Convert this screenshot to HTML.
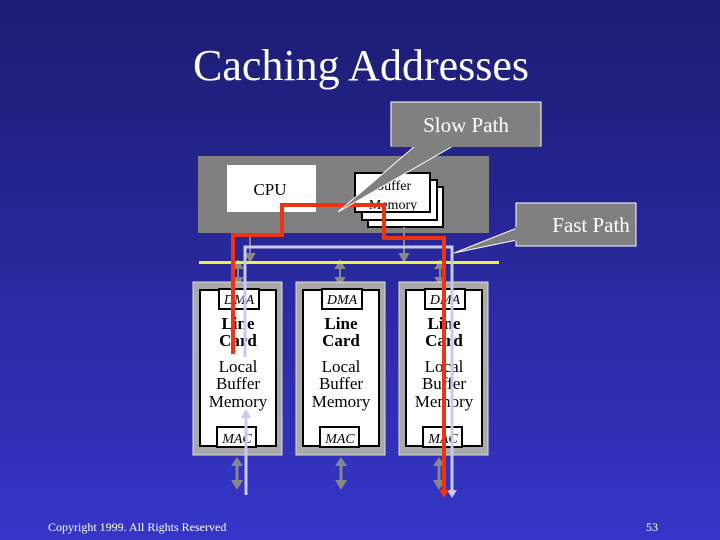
<!DOCTYPE html>
<html><head><style>
html,body{margin:0;padding:0;}
body{width:720px;height:540px;overflow:hidden;}
svg{display:block;}
text{font-family:"Liberation Serif",serif;}
</style></head><body>
<svg width="720" height="540" viewBox="0 0 720 540" xmlns="http://www.w3.org/2000/svg">
<defs>
<linearGradient id="bg" x1="0" y1="0" x2="0" y2="1">
<stop offset="0" stop-color="#1c1c72"/>
<stop offset="1" stop-color="#3535c8"/>
</linearGradient>
</defs>
<rect width="720" height="540" fill="url(#bg)"/>
<text x="361" y="80" font-size="44" fill="#fff" text-anchor="middle">Caching Addresses</text>

<rect x="198" y="156" width="291" height="77" fill="#808080"/>
<rect x="227" y="165" width="89" height="47" fill="#fff"/>
<text x="270" y="195" font-size="17" text-anchor="middle">CPU</text>
<rect x="368" y="187" width="75" height="40" fill="#fff" stroke="#000" stroke-width="2"/>
<rect x="362" y="180" width="75" height="40" fill="#fff" stroke="#000" stroke-width="2"/>
<rect x="355" y="173" width="75" height="39" fill="#fff" stroke="#000" stroke-width="2"/>
<text x="393" y="190" font-size="14" text-anchor="middle">Buffer</text>
<text x="393" y="209" font-size="14" text-anchor="middle">Memory</text>

<g stroke="#888" stroke-width="2" fill="#888">
<line x1="250" y1="233" x2="250" y2="258"/><path d="M246,254 L254,254 L250,261z"/>
<line x1="404" y1="227" x2="404" y2="258"/><path d="M400,254 L408,254 L404,261z"/>
<line x1="340" y1="266" x2="340" y2="280"/><path d="M336,268 L344,268 L340,261z M336,278 L344,278 L340,284z"/>
<line x1="440" y1="266" x2="440" y2="280"/><path d="M436,268 L444,268 L440,261z M436,278 L444,278 L440,284z"/>
<line x1="238" y1="266" x2="238" y2="280"/><path d="M234,268 L242,268 L238,261z M234,278 L242,278 L238,284z"/>
</g>
<rect x="199" y="261" width="300" height="3" fill="#f0f040"/>

<g>
<rect x="193" y="282" width="89" height="173" fill="#aaa" stroke="#ddd"/>
<rect x="200" y="290" width="76" height="156" fill="#fff" stroke="#000" stroke-width="2"/>
<rect x="219" y="289" width="40" height="20" fill="#fff" stroke="#000" stroke-width="2"/>
<rect x="217" y="427" width="39" height="20" fill="#fff" stroke="#000" stroke-width="2"/>
<rect x="296" y="282" width="89" height="173" fill="#aaa" stroke="#ddd"/>
<rect x="303" y="290" width="76" height="156" fill="#fff" stroke="#000" stroke-width="2"/>
<rect x="322" y="289" width="40" height="20" fill="#fff" stroke="#000" stroke-width="2"/>
<rect x="320" y="427" width="39" height="20" fill="#fff" stroke="#000" stroke-width="2"/>
<rect x="399" y="282" width="89" height="173" fill="#aaa" stroke="#ddd"/>
<rect x="406" y="290" width="76" height="156" fill="#fff" stroke="#000" stroke-width="2"/>
<rect x="425" y="289" width="40" height="20" fill="#fff" stroke="#000" stroke-width="2"/>
<rect x="423" y="427" width="39" height="20" fill="#fff" stroke="#000" stroke-width="2"/>
</g>
<g font-size="17" text-anchor="middle">
<text x="239" y="304" font-style="italic" font-size="14">DMA</text>
<text x="238" y="329" font-weight="bold">Line</text>
<text x="238" y="346" font-weight="bold">Card</text>
<text x="238" y="372">Local</text>
<text x="238" y="389">Buffer</text>
<text x="238" y="407">Memory</text>
<text x="237" y="443" font-style="italic" font-size="14">MAC</text>
<text x="342" y="304" font-style="italic" font-size="14">DMA</text>
<text x="341" y="329" font-weight="bold">Line</text>
<text x="341" y="346" font-weight="bold">Card</text>
<text x="341" y="372">Local</text>
<text x="341" y="389">Buffer</text>
<text x="341" y="407">Memory</text>
<text x="340" y="443" font-style="italic" font-size="14">MAC</text>
<text x="445" y="304" font-style="italic" font-size="14">DMA</text>
<text x="444" y="329" font-weight="bold">Line</text>
<text x="444" y="346" font-weight="bold">Card</text>
<text x="444" y="372">Local</text>
<text x="444" y="389">Buffer</text>
<text x="444" y="407">Memory</text>
<text x="443" y="443" font-style="italic" font-size="14">MAC</text>
</g>

<g fill="#888" stroke="#888" stroke-width="3">
<line x1="237" y1="462" x2="237" y2="484"/><path d="M231,466 L243,466 L237,457z M231,480 L243,480 L237,490z" stroke="none"/>
<line x1="341" y1="462" x2="341" y2="484"/><path d="M335,466 L347,466 L341,457z M335,480 L347,480 L341,490z" stroke="none"/>
<line x1="439" y1="462" x2="439" y2="484"/><path d="M433,466 L445,466 L439,457z M433,480 L445,480 L439,490z" stroke="none"/>
</g>

<g stroke="#c8c8f4" stroke-width="3" fill="none">
<polyline points="245,357 245,247 452,247 452,492"/>
<line x1="246" y1="495" x2="246" y2="415"/>
</g>
<path d="M241,418 L251,418 L246,409z" fill="#c8c8f4"/>
<path d="M447,490 L457,490 L452,498z" fill="#c8c8f4"/>

<polyline points="233,354 233,235 282,235 282,205 384,205 384,238 444,238 444,492" stroke="#ee3311" stroke-width="4" fill="none"/>
<path d="M439,490 L449,490 L444,498z" fill="#ee3311"/>

<path d="M415,146 L338,212 L453,146z" fill="#808080" stroke="#fff" stroke-width="1"/>
<rect x="391" y="102" width="150" height="44" fill="#808080" stroke="#fff" stroke-width="1"/>
<rect x="392" y="145" width="148" height="2" fill="#808080"/>
<text x="466" y="132" font-size="21" fill="#fff" text-anchor="middle">Slow Path</text>
<path d="M517,228 L454,253 L517,240z" fill="#808080" stroke="#fff" stroke-width="1"/>
<rect x="516" y="203" width="120" height="43" fill="#808080" stroke="#fff" stroke-width="1"/>
<rect x="515" y="227" width="3" height="14" fill="#808080"/>
<text x="591" y="232" font-size="21" fill="#fff" text-anchor="middle">Fast Path</text>

<text x="48" y="531" font-size="12" fill="#fff">Copyright 1999. All Rights Reserved</text>
<text x="646" y="531" font-size="12" fill="#fff">53</text>
</svg>
</body></html>
